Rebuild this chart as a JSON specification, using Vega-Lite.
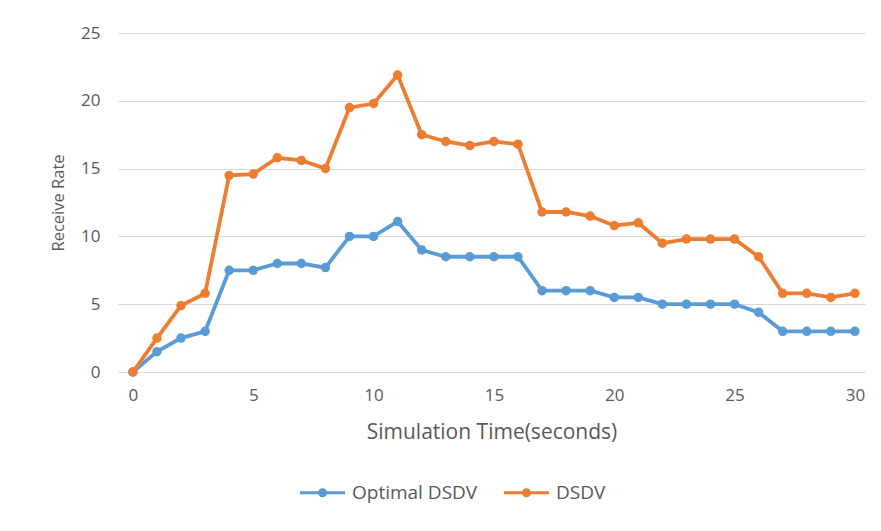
{
  "$schema": "https://vega.github.io/schema/vega-lite/v6.json",
  "autosize": {"type": "none"},
  "width": 747,
  "height": 339,
  "padding": {"left": 118, "top": 33, "right": 16, "bottom": 159},
  "background": "white",
  "config": {
    "view": {"stroke": null},
    "font": "Open Sans",
    "axis": {"labelColor": "#595959", "titleColor": "#595959", "titleFontWeight": "normal", "labelFont": "Open Sans", "titleFont": "Open Sans"},
    "legend": {"labelColor": "#595959", "labelFont": "Open Sans"}
  },
  "data": {"values": [
    {"t":0,"s":"Optimal DSDV","v":0},{"t":1,"s":"Optimal DSDV","v":1.5},{"t":2,"s":"Optimal DSDV","v":2.5},{"t":3,"s":"Optimal DSDV","v":3},{"t":4,"s":"Optimal DSDV","v":7.5},{"t":5,"s":"Optimal DSDV","v":7.5},{"t":6,"s":"Optimal DSDV","v":8},{"t":7,"s":"Optimal DSDV","v":8},{"t":8,"s":"Optimal DSDV","v":7.7},{"t":9,"s":"Optimal DSDV","v":10},{"t":10,"s":"Optimal DSDV","v":10},{"t":11,"s":"Optimal DSDV","v":11.1},{"t":12,"s":"Optimal DSDV","v":9},{"t":13,"s":"Optimal DSDV","v":8.5},{"t":14,"s":"Optimal DSDV","v":8.5},{"t":15,"s":"Optimal DSDV","v":8.5},{"t":16,"s":"Optimal DSDV","v":8.5},{"t":17,"s":"Optimal DSDV","v":6},{"t":18,"s":"Optimal DSDV","v":6},{"t":19,"s":"Optimal DSDV","v":6},{"t":20,"s":"Optimal DSDV","v":5.5},{"t":21,"s":"Optimal DSDV","v":5.5},{"t":22,"s":"Optimal DSDV","v":5},{"t":23,"s":"Optimal DSDV","v":5},{"t":24,"s":"Optimal DSDV","v":5},{"t":25,"s":"Optimal DSDV","v":5},{"t":26,"s":"Optimal DSDV","v":4.4},{"t":27,"s":"Optimal DSDV","v":3},{"t":28,"s":"Optimal DSDV","v":3},{"t":29,"s":"Optimal DSDV","v":3},{"t":30,"s":"Optimal DSDV","v":3},
    {"t":0,"s":"DSDV","v":0},{"t":1,"s":"DSDV","v":2.5},{"t":2,"s":"DSDV","v":4.9},{"t":3,"s":"DSDV","v":5.8},{"t":4,"s":"DSDV","v":14.5},{"t":5,"s":"DSDV","v":14.6},{"t":6,"s":"DSDV","v":15.8},{"t":7,"s":"DSDV","v":15.6},{"t":8,"s":"DSDV","v":15},{"t":9,"s":"DSDV","v":19.5},{"t":10,"s":"DSDV","v":19.8},{"t":11,"s":"DSDV","v":21.9},{"t":12,"s":"DSDV","v":17.5},{"t":13,"s":"DSDV","v":17},{"t":14,"s":"DSDV","v":16.7},{"t":15,"s":"DSDV","v":17},{"t":16,"s":"DSDV","v":16.8},{"t":17,"s":"DSDV","v":11.8},{"t":18,"s":"DSDV","v":11.8},{"t":19,"s":"DSDV","v":11.5},{"t":20,"s":"DSDV","v":10.8},{"t":21,"s":"DSDV","v":11},{"t":22,"s":"DSDV","v":9.5},{"t":23,"s":"DSDV","v":9.8},{"t":24,"s":"DSDV","v":9.8},{"t":25,"s":"DSDV","v":9.8},{"t":26,"s":"DSDV","v":8.5},{"t":27,"s":"DSDV","v":5.8},{"t":28,"s":"DSDV","v":5.8},{"t":29,"s":"DSDV","v":5.5},{"t":30,"s":"DSDV","v":5.8}
  ]},
  "encoding": {
    "x": {"field": "t", "type": "quantitative",
      "scale": {"domain": [-0.62, 30.42], "nice": false, "zero": false},
      "axis": {"values": [0,5,10,15,20,25,30], "grid": false, "ticks": false, "domainColor": "#d9d9d9", "domainWidth": 1, "labelFontSize": 17, "labelPadding": 15, "title": "Simulation Time(seconds)", "titleFontSize": 21, "titlePadding": 18}},
    "y": {"field": "v", "type": "quantitative",
      "scale": {"domain": [0, 25], "nice": false},
      "axis": {"values": [0,5,10,15,20,25], "grid": true, "gridColor": "#d9d9d9", "domain": false, "ticks": false, "labelFontSize": 17, "labelPadding": 18, "title": "Receive Rate", "titleFontSize": 16.5, "titlePadding": 14}},
    "color": {"field": "s", "type": "nominal", "sort": ["Optimal DSDV", "DSDV"],
      "scale": {"domain": ["Optimal DSDV", "DSDV"], "range": ["#5B9BD5", "#ED7D31"]},
      "legend": {"title": null, "orient": "none", "legendX": 182, "legendY": 437, "direction": "horizontal", "labelFontSize": 19,
        "symbolType": "M-1,-0.07L1,-0.07L1,0.07L-1,0.07Z M-0.2,0A0.2,0.2 0 1,1 0.2,0A0.2,0.2 0 1,1 -0.2,0Z",
        "symbolSize": 2025, "symbolStrokeWidth": 0, "columnPadding": 26, "labelOffset": 7,
        "encode": {"symbols": {"update": {"fill": {"scale": "color", "field": "value"}, "opacity": {"value": 1}}}}}}
  },
  "layer": [
    {"mark": {"type": "line", "strokeWidth": 3.8}},
    {"mark": {"type": "point", "filled": true, "size": 90, "opacity": 1}}
  ]
}
